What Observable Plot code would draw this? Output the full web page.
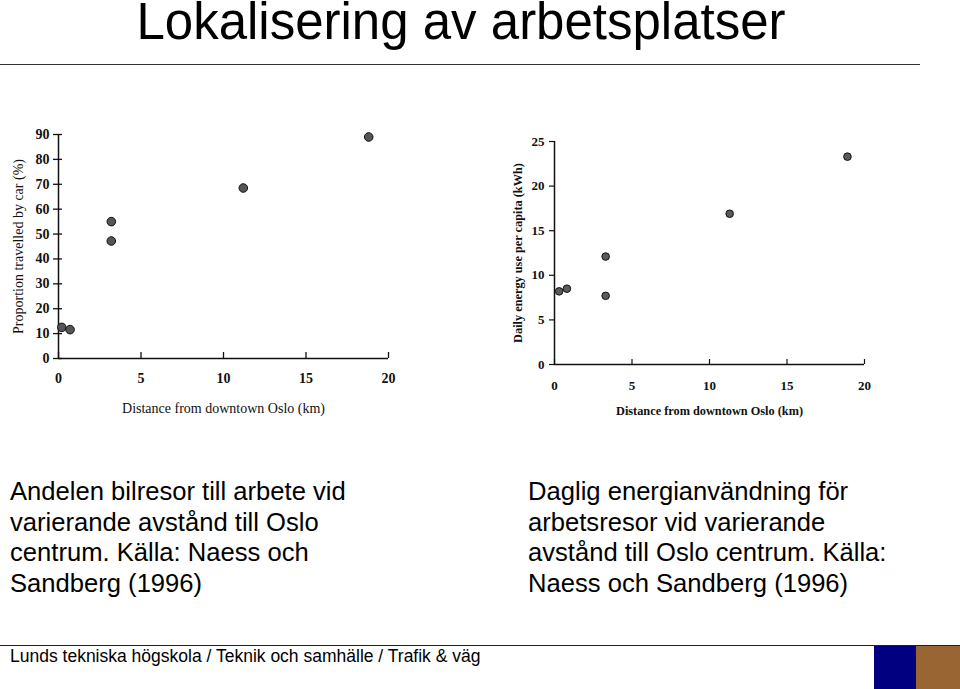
<!DOCTYPE html>
<html>
<head>
<meta charset="utf-8">
<script src="https://cdn.jsdelivr.net/npm/d3@7"></script>
<script src="https://cdn.jsdelivr.net/npm/@observablehq/plot@0.6"></script>
<style>
  html, body { margin: 0; padding: 0; background: #fff; }
  #page { position: relative; width: 960px; height: 689px; overflow: hidden; background: #fff; font-family: "Liberation Sans", Arial, sans-serif; }
  .title { position: absolute; left: 0; width: 922px; top: 2px; text-align: center; font-size: 51px; line-height: 40px; color: #000; white-space: nowrap; }
  .hr1 { position: absolute; left: 0; top: 64px; width: 920px; height: 0; border-top: 1.5px solid #333; }
  .caption { position: absolute; font-size: 25.6px; line-height: 30.5px; color: #000; white-space: nowrap; }
  .hr2 { position: absolute; left: 0; top: 645px; width: 960px; height: 0; border-top: 1.5px solid #222; }
  .footer { position: absolute; left: 10px; top: 645px; font-size: 17.5px; line-height: 22px; color: #000; white-space: nowrap; }
  .sq1 { position: absolute; left: 874px; top: 646px; width: 42px; height: 43px; background: #000080; }
  .sq2 { position: absolute; left: 916px; top: 646px; width: 44px; height: 43px; background: #996633; }
  .chart { position: absolute; }
</style>
</head>
<body>
<div id="page">
  <div class="title">Lokalisering av arbetsplatser</div>
  <div class="hr1"></div>
  <div id="c1" class="chart" style="left:0px; top:120px;"></div>
  <div id="c2" class="chart" style="left:500px; top:120px;"></div>
  <div class="caption" style="left:10px; top:476px;">Andelen bilresor till arbete vid<br>varierande avstånd till Oslo<br>centrum. Källa: Naess och<br>Sandberg (1996)</div>
  <div class="caption" style="left:528px; top:476px;">Daglig energianvändning för<br>arbetsresor vid varierande<br>avstånd till Oslo centrum. Källa:<br>Naess och Sandberg (1996)</div>
  <div class="hr2"></div>
  <div class="footer">Lunds tekniska högskola / Teknik och samhälle / Trafik &amp; väg</div>
  <div class="sq1"></div>
  <div class="sq2"></div>
</div>
<script>
// Chart 1: proportion travelled by car vs distance
const distCar = [0.2, 0.7, 3.2, 3.2, 11.2, 18.8];
const carShare = [12.5, 11.6, 55, 47.2, 68.5, 89];
// Chart 2: daily energy use per capita vs distance
const distEnergy = [0.3, 0.8, 3.3, 3.3, 11.3, 18.9];
const energyUse = [8.2, 8.5, 12.1, 7.7, 16.9, 23.3];
// ticks
const xTicks = [0, 5, 10, 15, 20];
const carTicks = [0, 10, 20, 30, 40, 50, 60, 70, 80, 90];
const energyTicks = [0, 5, 10, 15, 20, 25];
const xLabel = "Distance from downtown Oslo (km)";
const carLabel = "Proportion travelled by car (%)";
const energyLabel = "Daily energy use per capita (kWh)";

const car = distCar.map((d, i) => ({dist: d, value: carShare[i]}));
const energy = distEnergy.map((d, i) => ({dist: d, value: energyUse[i]}));

const serif = "'Liberation Serif', 'DejaVu Serif', serif";

const chart1 = Plot.plot({
  width: 400, height: 300,
  marginLeft: 58, marginRight: 12, marginTop: 14, marginBottom: 62,
  style: {fontFamily: serif, background: "transparent", color: "#111", overflow: "visible"},
  x: {domain: [0, 20]},
  y: {domain: [0, 90]},
  marks: [
    Plot.ruleY([0], {stroke: "#111", strokeWidth: 1.5}),
    Plot.ruleX([0], {stroke: "#111", strokeWidth: 1.5}),
    Plot.axisX({ticks: xTicks, tickSize: 6, dy: -6, text: null, label: null, stroke: "#111", strokeWidth: 1.3}),
    Plot.axisX({ticks: xTicks, tickSize: 0, tickPadding: 15, label: null, fontSize: 14, fontWeight: "bold", fill: "#111"}),
    Plot.axisY({ticks: carTicks, tickSize: 9, dx: 4, text: null, label: null, stroke: "#111", strokeWidth: 1.3}),
    Plot.axisY({ticks: carTicks, tickSize: 0, tickPadding: 9, label: null, fontSize: 14, fontWeight: "bold", fill: "#111"}),
    Plot.text([xLabel], {frameAnchor: "bottom", lineAnchor: "bottom", textAnchor: "middle", dy: 54, fontSize: 14, fill: "#111"}),
    Plot.text([carLabel], {frameAnchor: "left", textAnchor: "middle", lineAnchor: "middle", rotate: -90, dx: -40, fontSize: 14, fill: "#111"}),
    Plot.dot(car, {x: "dist", y: "value", r: 4.3, fill: "#555", stroke: "#111", strokeWidth: 1})
  ]
});
document.getElementById("c1").appendChild(chart1);

const chart2 = Plot.plot({
  width: 400, height: 310,
  marginLeft: 54, marginRight: 36, marginTop: 21, marginBottom: 66,
  style: {fontFamily: serif, background: "transparent", color: "#111", overflow: "visible"},
  x: {domain: [0, 20]},
  y: {domain: [0, 25]},
  marks: [
    Plot.ruleY([0], {stroke: "#111", strokeWidth: 1.5}),
    Plot.ruleX([0], {stroke: "#111", strokeWidth: 1.5}),
    Plot.axisX({ticks: xTicks, tickSize: 5, dy: -5, text: null, label: null, stroke: "#111", strokeWidth: 1.2}),
    Plot.axisX({ticks: xTicks, tickSize: 0, tickPadding: 16, label: null, fontSize: 13, fontWeight: "bold", fill: "#111"}),
    Plot.axisY({ticks: energyTicks, tickSize: 5, text: null, label: null, stroke: "#111", strokeWidth: 1.2}),
    Plot.axisY({ticks: energyTicks, tickSize: 0, tickPadding: 10, label: null, fontSize: 13, fontWeight: "bold", fill: "#111"}),
    Plot.text([xLabel], {frameAnchor: "bottom", lineAnchor: "bottom", textAnchor: "middle", dy: 50, fontSize: 12.3, fontWeight: "bold", fill: "#111"}),
    Plot.text([energyLabel], {frameAnchor: "left", textAnchor: "middle", lineAnchor: "middle", rotate: -90, dx: -36, fontSize: 12.3, fontWeight: "bold", fill: "#111"}),
    Plot.dot(energy, {x: "dist", y: "value", r: 3.8, fill: "#5a5a5a", stroke: "#111", strokeWidth: 1})
  ]
});
document.getElementById("c2").appendChild(chart2);
</script>
</body>
</html>
